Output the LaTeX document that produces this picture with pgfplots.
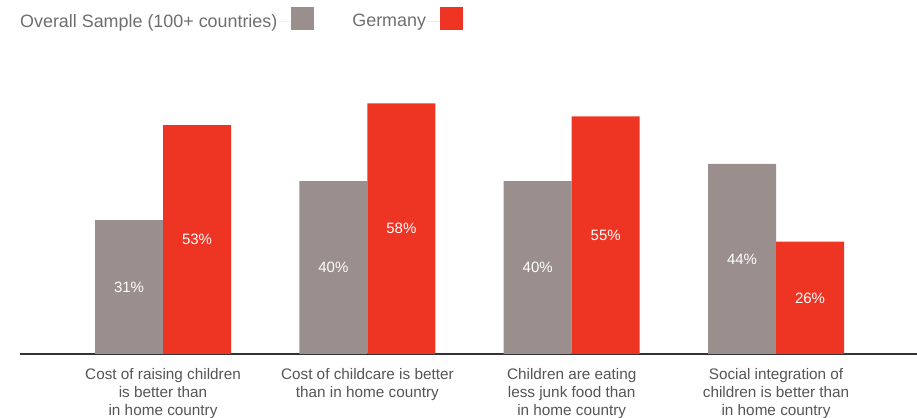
\documentclass[border=0pt]{standalone}
\usepackage{pgfplots}
\pgfplotsset{compat=1.18}
\usepackage{fontspec}
\setmainfont{Liberation Sans}
\definecolor{greybar}{HTML}{9A8F8C}
\definecolor{redbar}{HTML}{EE3524}
\definecolor{legtext}{HTML}{6E6E6E}
\definecolor{cattext}{HTML}{555555}
\definecolor{axisline}{HTML}{333333}
\begin{document}
\begin{tikzpicture}
\path[use as bounding box] (0,0) rectangle (917bp,418bp);
\begin{axis}[
 at={(20bp,64bp)}, anchor=south west,
 scale only axis, width=897bp, height=302.4bp,
 xmin=-0.70, xmax=3.69, ymin=0, ymax=70,
 axis x line*=bottom, axis y line=none,
 x axis line style={line width=2.2pt, color=axisline, -},
 xtick={0,1,2,3}, major tick length=0pt,
 xticklabels={{Cost of raising children\\is better than\\in home country},
   {Cost of childcare is better\\than in home country},
   {Children are eating\\less junk food than\\in home country},
   {Social integration of\\children is better than\\in home country}},
 xticklabel style={align=center, font=\fontsize{15.3bp}{18bp}\selectfont, text=cattext, anchor=north, yshift=-11bp},
 ytick=\empty,
 /pgf/number format/assume math mode=true,
 legend columns=2, legend plot pos=right, legend cell align=left,
 legend style={at={(axis cs:-0.70,70)}, anchor=south west, yshift=21bp, draw=none, fill=none, inner sep=0pt,
   font=\fontsize{17.9bp}{20bp}\selectfont, text=legtext, nodes={inner sep=0pt},
   /tikz/column 2/.style={column sep=38bp}},
 legend image code/.code={\path (0bp,0bp) -- (14bp,0bp); \fill[#1,draw=none] (14bp,-9bp) rectangle (37bp,14bp);},
 visualization depends on=rawy\as\rawy,
 nodes near coords={\pgfmathprintnumber{\pgfplotspointmeta}\%},
 every node near coord/.append style={anchor=center, text=white, font=\fontsize{15bp}{18bp}\selectfont, shift={(axis direction cs:0,-\rawy/2)}},
]
\addplot[ybar, bar width=68bp, bar shift=-34bp, fill=greybar, draw=none,
  every node near coord/.append style={xshift=-34bp}] coordinates {(0,31) (1,40) (2,40) (3,44)};
\addlegendentry{Overall Sample (100+ countries)}
\addplot[ybar, bar width=68bp, bar shift=34bp, fill=redbar, draw=none,
  every node near coord/.append style={xshift=34bp}] coordinates {(0,53) (1,58) (2,55) (3,26)};
\addlegendentry{Germany}
\end{axis}
\end{tikzpicture}
\end{document}
